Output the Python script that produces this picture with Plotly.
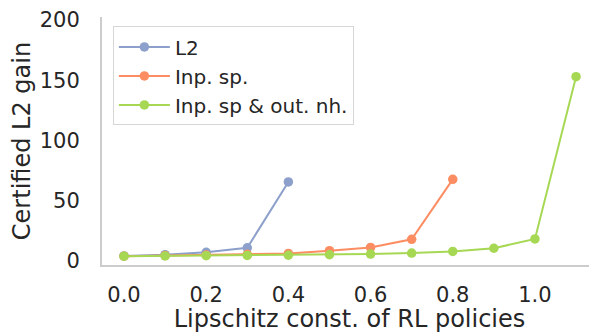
import plotly.graph_objects as go

x_l2 = [0.0, 0.1, 0.2, 0.3, 0.4]
y_l2 = [4.2, 5.3, 7.2, 11.0, 65.6]

x_inp = [0.0, 0.1, 0.2, 0.3, 0.4, 0.5, 0.6, 0.7, 0.8]
y_inp = [4.0, 4.5, 5.0, 5.6, 6.3, 8.6, 11.3, 18.0, 67.8]

x_out = [0.0, 0.1, 0.2, 0.3, 0.4, 0.5, 0.6, 0.7, 0.8, 0.9, 1.0, 1.1]
y_out = [4.0, 4.2, 4.4, 4.6, 4.8, 5.2, 5.8, 6.6, 8.0, 10.6, 18.3, 153.0]

names = ["L2", "Inp. sp.", "Inp. sp & out. nh."]
colors = ["#8da0cb", "#fc8d62", "#a6d854"]

x_ticks = [0.0, 0.2, 0.4, 0.6, 0.8, 1.0]
x_tick_text = ["0.0", "0.2", "0.4", "0.6", "0.8", "1.0"]
y_ticks = [0, 50, 100, 150, 200]

fig = go.Figure()
for xs, ys, n, c in zip([x_l2, x_inp, x_out], [y_l2, y_inp, y_out], names, colors):
    fig.add_trace(go.Scatter(x=xs, y=ys, name=n, mode="lines+markers",
                             line=dict(color=c, width=2),
                             marker=dict(color=c, size=9.5)))

font_color = "#262626"
fig.update_layout(
    width=589, height=325,
    margin=dict(l=94, r=0, t=9, b=68, autoexpand=False),
    paper_bgcolor="white", plot_bgcolor="white",
    font=dict(family="DejaVu Sans", color=font_color, size=20),
    showlegend=True,
    legend=dict(x=0.022, y=0.962, xanchor="left", yanchor="top",
                bgcolor="white", bordercolor="#d6d6d6", borderwidth=1,
                itemwidth=51,
                font=dict(size=20, color=font_color)),
    xaxis=dict(range=[-0.0535, 1.151], tickvals=x_ticks, ticktext=x_tick_text,
               showgrid=False, zeroline=False, showline=True, linecolor="#cccccc",
               linewidth=2, ticks="", tickfont=dict(size=21), ticklabelstandoff=10,
               automargin=False,
               title=dict(text="Lipschitz const. of RL policies", font=dict(size=24), standoff=4)),
    yaxis=dict(range=[-3.3, 202.5], tickvals=y_ticks,
               showgrid=False, zeroline=False, showline=True, linecolor="#cccccc",
               linewidth=2, ticks="", tickfont=dict(size=21), ticklabelstandoff=16,
               automargin=False,
               title=dict(text="Certified L2 gain", font=dict(size=24), standoff=8)),
)

fig.write_html("out.html")
